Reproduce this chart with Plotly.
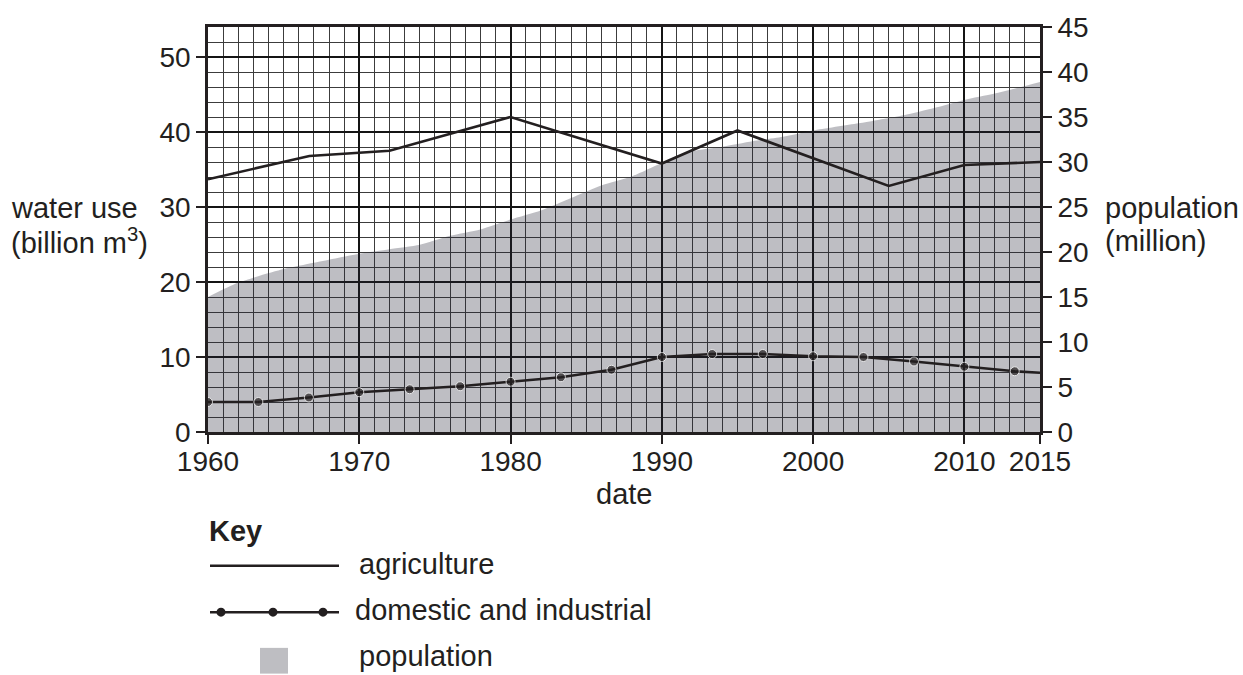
import plotly.graph_objects as go

# ---- data ----
agri_years = [1960, 1966.7, 1972, 1980, 1990, 1995, 2005, 2010, 2015]
agri_values = [33.7, 36.8, 37.5, 42.0, 35.8, 40.2, 32.8, 35.6, 36.0]

dom_years = [1960, 1963.33, 1966.67, 1970, 1973.33, 1976.67, 1980, 1983.33, 1986.67,
             1990, 1993.33, 1996.67, 2000, 2003.33, 2006.67, 2010, 2013.33, 2015]
dom_values = [4.0, 4.0, 4.6, 5.3, 5.7, 6.1, 6.7, 7.3, 8.3,
              10.0, 10.4, 10.4, 10.1, 10.0, 9.4, 8.7, 8.1, 7.9]

pop_years = [1960, 1962, 1965, 1967, 1970, 1972, 1974, 1976, 1978, 1980, 1982, 1984, 1986,
             1988, 1990, 1992, 1994, 1996, 1998, 2000, 2003, 2006, 2008, 2010, 2012, 2015]
pop_values = [15.0, 16.6, 18.1, 18.8, 19.8, 20.3, 20.8, 21.8, 22.5, 23.6, 24.6, 26.0, 27.4,
              28.4, 29.9, 31.2, 31.7, 32.3, 32.8, 33.5, 34.3, 35.2, 36.0, 36.9, 37.6, 38.9]

x_ticks = [1960, 1970, 1980, 1990, 2000, 2010, 2015]
left_ticks = [0, 10, 20, 30, 40, 50]
right_ticks = [0, 5, 10, 15, 20, 25, 30, 35, 40, 45]

# ---- layout geometry (pixels) ----
W, H = 1243, 675
P_LEFT, P_RIGHT, P_TOP, P_BOT = 208, 1040, 23, 432
L, R, T, B = P_LEFT, W - P_RIGHT, P_TOP, H - P_BOT
PW, PH = W - L - R, H - T - B


def px(x):
    return (x - L) / PW


def py(y):
    return (H - B - y) / PH


FONT = "Liberation Sans, Arial, sans-serif"
INK = "#231f20"
FS_TICK = 28
FS = 29

fig = go.Figure()

# population fill on the main (right-hand) axis so the lines drawn on the overlay sit above it
fig.add_trace(go.Scatter(
    x=pop_years, y=pop_values, yaxis="y", mode="lines",
    line=dict(width=0, shape="spline", smoothing=0.6),
    fill="tozeroy", fillcolor="rgba(40,40,56,0.3)",
    hoverinfo="skip", showlegend=False, name="population"))

fig.add_trace(go.Scatter(
    x=agri_years, y=agri_values, yaxis="y2", mode="lines",
    line=dict(color=INK, width=2.6), showlegend=False, name="agriculture"))

dom_sizes = [9] * (len(dom_years) - 1) + [0]
fig.add_trace(go.Scatter(
    x=dom_years, y=dom_values, yaxis="y2", mode="lines+markers",
    line=dict(color=INK, width=2.6),
    marker=dict(color=INK, size=dom_sizes),
    showlegend=False, name="domestic and industrial"))

minor_grid = "#3c3c3c"
major_grid = "#141414"

fig.update_layout(
    width=W, height=H,
    margin=dict(l=L, r=R, t=T, b=B),
    paper_bgcolor="white", plot_bgcolor="white",
    font=dict(family=FONT, size=FS, color=INK),
    xaxis=dict(
        range=[1960, 2015], tickvals=x_ticks, ticktext=[str(v) for v in x_ticks],
        ticks="outside", ticklen=9, tickwidth=2, tickcolor=INK,
        showline=True, linewidth=2.6, linecolor=INK, mirror=True,
        showgrid=True, gridcolor=major_grid, gridwidth=1.7,
        minor=dict(dtick=1, showgrid=True, gridcolor=minor_grid, gridwidth=1.2, ticks=""),
        zeroline=False, tickfont=dict(size=FS_TICK), ticklabelstandoff=-6,
        ticklabeloverflow="allow",
    ),
    yaxis=dict(
        range=[0, 45], tickvals=right_ticks, side="right",
        ticks="outside", ticklen=9, tickwidth=2, tickcolor=INK,
        showline=True, linewidth=2.6, linecolor=INK,
        showgrid=False, zeroline=False, tickfont=dict(size=FS_TICK),
        ticklabeloverflow="allow",
    ),
    yaxis2=dict(
        range=[0, 54.0], tickvals=left_ticks, overlaying="y", side="left",
        ticks="outside", ticklen=9, tickwidth=2, tickcolor=INK,
        showline=True, linewidth=2.6, linecolor=INK,
        showgrid=True, gridcolor=major_grid, gridwidth=1.7,
        minor=dict(dtick=2, tick0=0, showgrid=True, gridcolor=minor_grid, gridwidth=1.2, ticks=""),
        zeroline=False, tickfont=dict(size=FS_TICK), ticklabeloverflow="allow",
    ),
)

ann = []


def text(x, y, s, anchor="left", bold=False, size=FS):
    ann.append(dict(
        x=px(x), y=py(y), xref="paper", yref="paper", text=("<b>%s</b>" % s) if bold else s,
        showarrow=False, xanchor=anchor, yanchor="middle",
        font=dict(family=FONT, size=size, color=INK)))


text(9, 206, "water use")
text(9, 239, "(billion m<sup>3</sup>)")
text(1103, 206, "population")
text(1103, 239, "(million)")
text(624, 495, "date", anchor="center")
text(207, 532, "Key", bold=True)
text(357, 565, "agriculture")
text(353, 612, "domestic and industrial")
text(357, 658, "population")

shapes = [
    dict(type="line", xref="paper", yref="paper", x0=px(210), x1=px(339), y0=py(567), y1=py(567),
         line=dict(color=INK, width=2.6)),
    dict(type="line", xref="paper", yref="paper", x0=px(210), x1=px(339), y0=py(614), y1=py(614),
         line=dict(color=INK, width=2.6)),
    dict(type="rect", xref="paper", yref="paper", x0=px(260), x1=px(288), y0=py(650), y1=py(676),
         fillcolor="#bebec2", line=dict(width=0)),
]
for cx in [221, 273, 323]:
    shapes.append(dict(type="circle", xref="paper", yref="paper",
                       x0=px(cx - 4.5), x1=px(cx + 4.5), y0=py(614 - 4.5), y1=py(614 + 4.5),
                       fillcolor=INK, line=dict(width=0)))

fig.update_layout(annotations=ann, shapes=shapes)

# remove the browser's default 8px body margin so the figure fills the window exactly
fig.write_html(
    "out.html",
    config={"displayModeBar": False},
    post_script="document.body.style.margin='0';document.body.style.overflow='hidden';",
)
